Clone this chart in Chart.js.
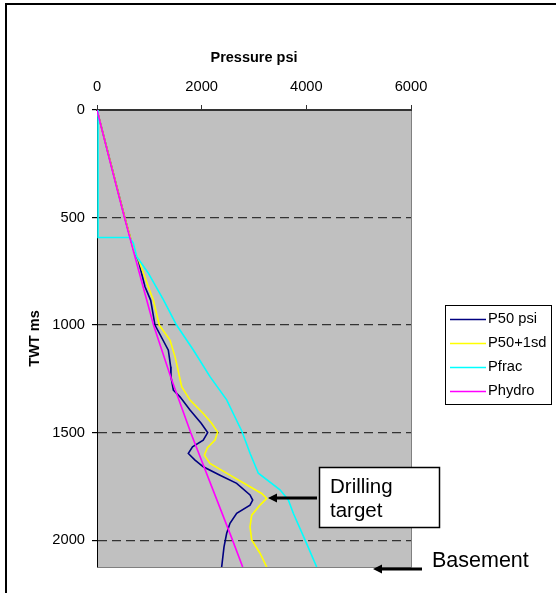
<!DOCTYPE html>
<html lang="en">
<head>
    <meta charset="UTF-8">
    <title>Pressure vs TWT</title>
    <style>
        html, body { margin: 0; padding: 0; background: #fff; }
        #wrap { width: 556px; height: 593px; position: relative; }
    </style>
</head>
<body>
<div id="wrap">
    <canvas id="pressure-chart"></canvas>
</div>

<script src="https://cdn.jsdelivr.net/npm/chart.js"></script>

<script>
    // values: TWT in ms, pressure in psi
    const p50Twt = [0, 250, 500, 650, 700, 822, 885, 1000, 1117, 1194, 1241, 1302, 1334, 1395, 1457, 1500, 1535, 1566, 1597, 1628, 1659, 1698, 1736, 1790, 1814, 1837, 1875, 1922, 1968, 2031, 2125]
    const p50Psi = [0, 265, 530, 700, 790, 917, 1026, 1108, 1363, 1408, 1414, 1459, 1586, 1777, 1990, 2115, 2030, 1825, 1745, 1873, 2031, 2350, 2669, 2924, 2975, 2924, 2669, 2541, 2478, 2427, 2382]

    const p50sdTwt = [0, 250, 500, 650, 700, 822, 885, 1000, 1070, 1148, 1194, 1287, 1349, 1411, 1457, 1498, 1535, 1570, 1605, 1643, 1698, 1752, 1783, 1806, 1837, 1884, 1938, 1999, 2061, 2125]
    const p50sdPsi = [0, 265, 530, 705, 800, 981, 1077, 1190, 1395, 1491, 1535, 1618, 1777, 2031, 2191, 2305, 2255, 2110, 2051, 2159, 2541, 2924, 3147, 3243, 3115, 2956, 2924, 2956, 3115, 3243]

    const pfracTwt = [0, 593, 593, 619, 681, 759, 883, 1000, 1116, 1240, 1348, 1495, 1596, 1689, 1766, 1813, 1875, 1999, 2125]
    const pfracPsi = [20, 20, 618, 694, 758, 981, 1270, 1520, 1841, 2159, 2478, 2770, 2924, 3083, 3497, 3656, 3751, 3975, 4198]

    const phydroTwt = [0, 250, 500, 750, 1000, 1250, 1500, 1750, 2000, 2125]
    const phydroPsi = [0, 260, 525, 800, 1080, 1420, 1790, 2190, 2590, 2784]

    const seriesNames = ['P50 psi', 'P50+1sd', 'Pfrac', 'Phydro']
    const seriesColors = ['#000080', '#ffff00', '#00ffff', '#ff00ff']

    const xTicks = [0, 2000, 4000, 6000]
    const yTicks = [0, 500, 1000, 1500, 2000]
    const twtMax = 2125

    const FONT = '"Liberation Sans", Arial, sans-serif'

    function points(twt, psi) {
        return twt.map((t, i) => ({x: psi[i], y: t}))
    }

    // white page, frame, grey plot area
    const backdrop = {
        id: 'backdrop',
        beforeDraw(chart) {
            const {ctx, chartArea: a} = chart
            ctx.save()
            ctx.fillStyle = '#fff'
            ctx.fillRect(0, 0, chart.width, chart.height)
            ctx.strokeStyle = '#000'
            ctx.lineWidth = 2
            ctx.beginPath()
            ctx.moveTo(6, 700)
            ctx.lineTo(6, 4)
            ctx.lineTo(700, 4)
            ctx.stroke()
            ctx.fillStyle = '#c0c0c0'
            ctx.fillRect(a.left, a.top, a.right - a.left, a.bottom - a.top)
            ctx.strokeStyle = '#808080'
            ctx.lineWidth = 1
            ctx.beginPath()
            ctx.moveTo(a.right + 0.5, a.top)
            ctx.lineTo(a.right + 0.5, a.bottom + 0.5)
            ctx.lineTo(a.left, a.bottom + 0.5)
            ctx.stroke()
            ctx.restore()
        }
    }

    // legend box and the two arrows with labels
    const overlay = {
        id: 'overlay',
        afterDraw(chart) {
            const {ctx} = chart
            ctx.save()

            ctx.fillStyle = '#fff'
            ctx.fillRect(445.5, 305.5, 106, 99)
            ctx.strokeStyle = '#000'
            ctx.lineWidth = 1
            ctx.strokeRect(445.5, 305.5, 106, 99)
            ctx.font = '14.7px ' + FONT
            ctx.textBaseline = 'middle'
            chart.data.datasets.forEach((ds, i) => {
                const y = 319 + i * 24
                ctx.strokeStyle = ds.borderColor
                ctx.lineWidth = 1.5
                ctx.beginPath()
                ctx.moveTo(450, y + 0.5)
                ctx.lineTo(486, y + 0.5)
                ctx.stroke()
                ctx.fillStyle = '#000'
                ctx.fillText(ds.label, 488, y)
            })

            // drilling target box
            ctx.fillStyle = '#fff'
            ctx.fillRect(319.5, 467.5, 120, 60)
            ctx.strokeStyle = '#000'
            ctx.strokeRect(319.5, 467.5, 120, 60)
            ctx.fillStyle = '#000'
            ctx.font = '20.5px ' + FONT
            ctx.textBaseline = 'alphabetic'
            ctx.fillText('Drilling', 330, 493)
            ctx.fillText('target', 330, 517)

            ctx.font = '21.5px ' + FONT
            ctx.fillText('Basement', 432, 567)

            const arrow = (x1, x2, y) => {
                ctx.strokeStyle = '#000'
                ctx.lineWidth = 3
                ctx.beginPath()
                ctx.moveTo(x1, y)
                ctx.lineTo(x2 + 7, y)
                ctx.stroke()
                ctx.beginPath()
                ctx.moveTo(x2, y)
                ctx.lineTo(x2 + 9, y - 4.5)
                ctx.lineTo(x2 + 9, y + 4.5)
                ctx.closePath()
                ctx.fill()
            }
            arrow(317, 268, 498)
            arrow(422, 373, 569)
            ctx.restore()
        }
    }

    const sets = [
        points(p50Twt, p50Psi),
        points(p50sdTwt, p50sdPsi),
        points(pfracTwt, pfracPsi),
        points(phydroTwt, phydroPsi)
    ]

    new Chart(document.getElementById('pressure-chart'), {
        type: 'scatter',
        data: {
            datasets: sets.map((data, i) => ({
                label: seriesNames[i],
                data: data,
                showLine: true,
                borderColor: seriesColors[i],
                backgroundColor: seriesColors[i],
                borderWidth: 1.6,
                pointRadius: 0,
                tension: 0,
                order: 3 - i
            }))
        },
        options: {
            responsive: true,
            maintainAspectRatio: false,
            animation: false,
            devicePixelRatio: 1,
            layout: {padding: {left: 0, top: 0, right: 145, bottom: 26}},
            plugins: {
                legend: {display: false},
                tooltip: {enabled: false}
            },
            scales: {
                x: {
                    type: 'linear',
                    position: 'top',
                    min: 0,
                    max: 6000,
                    afterFit(scale) { scale.height = 110 },
                    afterBuildTicks(scale) { scale.ticks = xTicks.map(v => ({value: v})) },
                    ticks: {
                        color: '#000',
                        padding: 9,
                        maxRotation: 0,
                        callback: v => String(v),
                        font: {family: FONT, size: 14.7}
                    },
                    grid: {
                        drawOnChartArea: false,
                        drawTicks: true,
                        tickLength: 5,
                        tickColor: '#333',
                        color: '#333'
                    },
                    border: {color: '#333', width: 2},
                    title: {
                        display: true,
                        text: 'Pressure psi',
                        color: '#000',
                        padding: {top: 49, bottom: 0},
                        font: {family: FONT, size: 14.5, weight: 'bold'}
                    }
                },
                y: {
                    type: 'linear',
                    reverse: true,
                    min: 0,
                    max: twtMax,
                    afterFit(scale) { scale.width = 97 },
                    afterBuildTicks(scale) { scale.ticks = yTicks.map(v => ({value: v})) },
                    ticks: {
                        color: '#000',
                        padding: 7,
                        callback: v => String(v),
                        font: {family: FONT, size: 14.7}
                    },
                    grid: {
                        drawTicks: true,
                        tickLength: 5,
                        tickColor: '#000',
                        tickBorderDash: [],
                        lineWidth: 1.2,
                        color: ctx => (ctx.tick && ctx.tick.value === 0) ? 'rgba(0,0,0,0)' : '#333'
                    },
                    border: {color: '#000', width: 1, dash: [9, 5]},
                    title: {
                        display: true,
                        text: 'TWT ms',
                        color: '#000',
                        padding: {top: 26, bottom: 0},
                        font: {family: FONT, size: 14.5, weight: 'bold'}
                    }
                }
            }
        },
        plugins: [backdrop, overlay]
    });
</script>
</body>
</html>
